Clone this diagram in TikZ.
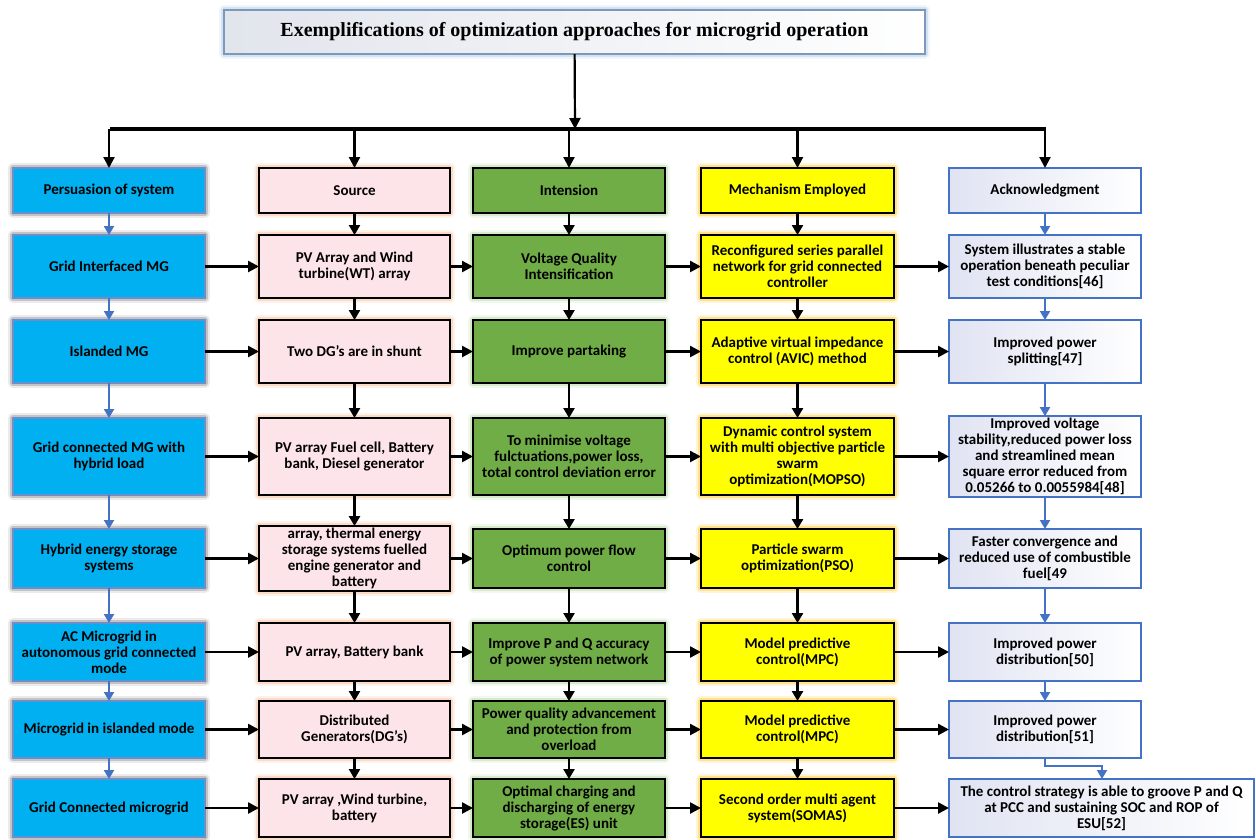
\documentclass[tikz,border=0pt]{standalone}
\usepackage{fontspec}
\setmainfont{Carlito}
\newfontfamily\titlefont{Liberation Serif}
\usetikzlibrary{arrows.meta}

\definecolor{cyanbox}{HTML}{00B0F0}
\definecolor{cyanedge}{HTML}{6C8FCB}
\definecolor{pinkbox}{HTML}{FDE4E9}
\definecolor{greenbox}{HTML}{70AD47}
\definecolor{yellowbox}{HTML}{FFFF00}
\definecolor{ackedge}{HTML}{4472C4}
\definecolor{ackshade}{HTML}{E0E3F2}
\definecolor{titleedge}{HTML}{7F97B8}
\definecolor{titleshade}{HTML}{E1E5EC}
\definecolor{glowblue}{HTML}{9DC3E6}
\definecolor{gloworange}{HTML}{F4B183}
\definecolor{glowgreen}{HTML}{A9D18E}
\definecolor{glowgold}{HTML}{FFC000}
\definecolor{linkblue}{HTML}{4472C4}

% one cell of the chart: name, style, left, top, right, bottom, text
\newcommand\putcell[7]{%
  \node[#2,minimum width={#5-#3},minimum height={#6-#4}] (#1)
    at ({(#3+#5)/2},{(#4+#6)/2}) {#7};}

\tikzset{
  glow/.style={
    preaction={draw=#1,line width=10pt,draw opacity=0.16,line join=round},
    preaction={draw=#1,line width=5.5pt,draw opacity=0.36,line join=round}},
  cell/.style={rectangle,inner sep=2pt,outer sep=0pt,align=center,
    font=\fontsize{15}{16}\selectfont\bfseries},
  headcell/.style={cell,font=\fontsize{15}{17}\selectfont\bfseries},
  persuade/.style={fill=cyanbox,draw=cyanedge,line width=1.3pt,glow=black!50},
  sourcebox/.style={fill=pinkbox,draw=black,line width=2.2pt,glow=gloworange},
  intentbox/.style={fill=greenbox,draw=black,line width=2.2pt,glow=glowgreen},
  mechbox/.style={fill=yellowbox,draw=black,line width=2.2pt,glow=glowgold},
  ackbox/.style={left color=ackshade,right color=white,draw=ackedge,line width=2pt},
  titlebox/.style={rectangle,outer sep=0pt,left color=titleshade,right color=white,
    draw=titleedge,line width=1.5pt,glow=glowblue,
    font=\titlefont\bfseries\fontsize{20}{22}\selectfont},
  flow/.style={draw=black,line width=2.6pt,-{Triangle[length=10pt,width=11pt]}},
  link/.style={draw=black,line width=2.5pt,-{Triangle[length=11pt,width=11pt]}},
  bluelink/.style={draw=linkblue,line width=2pt,-{Triangle[length=9pt,width=10pt]}},
  branch/.style={draw=black,line width=2.2pt,-{Triangle[length=11pt,width=11pt]}},
  busbar/.style={draw=black,line width=3.5pt},
}

\begin{document}
\begin{tikzpicture}[x=1pt,y=-1pt]
\useasboundingbox (0,0) rectangle (1256,839);

% heading
\node[titlebox,minimum width=701,minimum height=44] (title) at (574.5,32)
  {Exemplifications of optimization approaches for microgrid operation};

% column headers
\putcell{a0}{headcell,persuade}{13}{168}{205}{213}{Persuasion of system}
\putcell{b0}{headcell,sourcebox}{259}{168}{450}{213}{Source}
\putcell{c0}{headcell,intentbox}{473}{168}{665}{213}{Intension}
\putcell{d0}{headcell,mechbox}{701}{168}{894}{213}{Mechanism Employed}
\putcell{e0}{headcell,ackbox}{949}{168}{1141}{213}{Acknowledgment}

% persuasion of system
\putcell{a1}{cell,persuade}{13}{235}{205}{298}{Grid Interfaced MG}
\putcell{a2}{cell,persuade}{13}{320}{205}{383}{Islanded MG}
\putcell{a3}{cell,persuade}{13}{418}{205}{495}{Grid connected MG with\\hybrid load}
\putcell{a4}{cell,persuade}{13}{529}{205}{588}{Hybrid energy storage\\systems}
\putcell{a5}{cell,persuade}{13}{623}{205}{681}{AC Microgrid in\\autonomous grid connected\\mode}
\putcell{a6}{cell,persuade}{13}{701}{205}{758}{Microgrid in islanded mode}
\putcell{a7}{cell,persuade}{13}{779}{205}{837}{Grid Connected microgrid}

% source
\putcell{b1}{cell,sourcebox}{259}{235}{450}{298}{PV Array and Wind\\turbine(WT) array}
\putcell{b2}{cell,sourcebox}{259}{320}{450}{383}{Two DG’s are in shunt}
\putcell{b3}{cell,sourcebox}{259}{418}{450}{495}{PV array Fuel cell, Battery\\bank, Diesel generator}
\putcell{b4}{cell,sourcebox}{259}{529}{450}{588}{array, thermal energy\\storage systems fuelled\\engine generator and\\battery}
\putcell{b5}{cell,sourcebox}{259}{623}{450}{681}{PV array, Battery bank}
\putcell{b6}{cell,sourcebox}{259}{701}{450}{758}{Distributed\\Generators(DG’s)}
\putcell{b7}{cell,sourcebox}{259}{779}{450}{837}{PV array ,Wind turbine,\\battery}

% intension
\putcell{c1}{cell,intentbox}{473}{235}{665}{298}{Voltage Quality\\Intensification}
\putcell{c2}{cell,intentbox}{473}{320}{665}{383}{Improve partaking}
\putcell{c3}{cell,intentbox}{473}{418}{665}{495}{To minimise voltage\\fulctuations,power loss,\\total control deviation error}
\putcell{c4}{cell,intentbox}{473}{529}{665}{588}{Optimum power flow\\control}
\putcell{c5}{cell,intentbox}{473}{623}{665}{681}{Improve P and Q accuracy\\of power system network}
\putcell{c6}{cell,intentbox}{473}{701}{665}{758}{Power quality advancement\\and protection from\\overload}
\putcell{c7}{cell,intentbox}{473}{779}{665}{837}{Optimal charging and\\discharging of energy\\storage(ES) unit}

% mechanism employed
\putcell{d1}{cell,mechbox}{701}{235}{894}{298}{Reconfigured series parallel\\network for grid connected\\controller}
\putcell{d2}{cell,mechbox}{701}{320}{894}{383}{Adaptive virtual impedance\\control (AVIC) method}
\putcell{d3}{cell,mechbox}{701}{418}{894}{495}{Dynamic control system\\with multi objective particle\\swarm\\optimization(MOPSO)}
\putcell{d4}{cell,mechbox}{701}{529}{894}{588}{Particle swarm\\optimization(PSO)}
\putcell{d5}{cell,mechbox}{701}{623}{894}{681}{Model predictive\\control(MPC)}
\putcell{d6}{cell,mechbox}{701}{701}{894}{758}{Model predictive\\control(MPC)}
\putcell{d7}{cell,mechbox}{701}{779}{894}{837}{Second order multi agent\\system(SOMAS)}

% acknowledgment
\putcell{e1}{cell,ackbox}{949}{235}{1141}{298}{System illustrates a stable\\operation beneath peculiar\\test conditions[46]}
\putcell{e2}{cell,ackbox}{949}{320}{1141}{383}{Improved power\\splitting[47]}
\putcell{e3}{cell,ackbox}{949}{418}{1141}{495}{Improved voltage\\stability,reduced power loss\\and streamlined mean\\square error reduced from\\0.05266 to 0.0055984[48]}
\putcell{e4}{cell,ackbox}{949}{529}{1141}{588}{Faster convergence and\\reduced use of combustible\\fuel[49}
\putcell{e5}{cell,ackbox}{949}{623}{1141}{681}{Improved power\\distribution[50]}
\putcell{e6}{cell,ackbox}{949}{701}{1141}{758}{Improved power\\distribution[51]}
\putcell{e7}{cell,ackbox}{949}{779}{1254}{837}{The control strategy is able to groove P and Q\\at PCC and sustaining SOC and ROP of\\ESU[52]}

% distribution bar from the heading to the five columns
\coordinate (hub) at (575,129);
\coordinate (barL) at (110,129);
\coordinate (barR) at (1046,129);
\draw[busbar] (barL) -- (barR);
\draw[branch] (title) -- (hub);
\foreach \n in {a0,b0,c0,d0,e0}
  \draw[branch] (\n.north |- hub) -- (\n.north);

% downward links inside each column
\foreach \i [evaluate=\i as \j using int(\i+1)] in {0,...,6} {
  \draw[bluelink] (a\i) -- (a\j);
  \draw[flow] (b\i) -- (b\j);
  \draw[flow] (c\i) -- (c\j);
  \draw[flow] (d\i) -- (d\j);
}
\foreach \i [evaluate=\i as \j using int(\i+1)] in {0,...,5}
  \draw[bluelink] (e\i) -- (e\j);
\coordinate (elbow) at (1102,766);
\draw[bluelink] (e6.south) |- (elbow) -- (elbow |- e7.north);

% links across each row
\foreach \i in {1,...,7} {
  \draw[link] (a\i) -- (b\i);
  \draw[link] (b\i) -- (c\i);
  \draw[link] (c\i) -- (d\i);
  \draw[link] (d\i) -- (e\i);
}
\end{tikzpicture}
\end{document}
